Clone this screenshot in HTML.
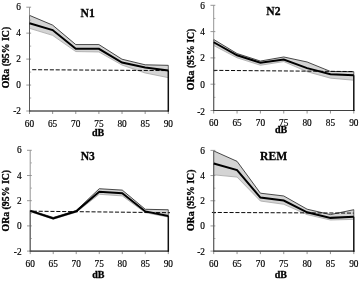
<!DOCTYPE html>
<html><head><meta charset="utf-8"><title>ORa (95% IC) by dB</title>
<style>
html,body{margin:0;padding:0;background:#fff;}
body{width:360px;height:281px;overflow:hidden;}
svg{display:block;}
text{font-family:"Liberation Serif",serif;fill:#000;stroke:#000;stroke-width:0.18px;}
.t{font-size:9.3px;}
.b{font-size:10px;font-weight:bold;stroke-width:0.3px;}
.h{font-size:12.5px;font-weight:bold;stroke-width:0.3px;}
</style></head><body>
<svg width="360" height="281" viewBox="0 0 360 281">
<defs><filter id="soft" x="0" y="0" width="100%" height="100%" filterUnits="userSpaceOnUse" color-interpolation-filters="sRGB"><feGaussianBlur stdDeviation="0.33"/></filter></defs>
<rect width="360" height="281" fill="#fff"/>
<g filter="url(#soft)">
<rect width="360" height="281" fill="#fff"/>
<g>
<polygon points="29.5,15.37 52.63,25.11 75.77,44.57 98.9,44.57 122.03,59.23 145.17,64.81 168.3,65.33 168.3,77.65 145.17,72.98 122.03,65.07 98.9,51.96 75.77,51.57 52.63,35.36 29.5,28.35" fill="#d4d4d4"/>
<polyline points="29.5,28.35 52.63,35.36 75.77,51.57 98.9,51.96 122.03,65.07 145.17,72.98 168.3,77.65" fill="none" stroke="#a6a6a6" stroke-width="0.8"/>
<polyline points="29.5,15.37 52.63,25.11 75.77,44.57 98.9,44.57 122.03,59.23 145.17,64.81 168.3,65.33" fill="none" stroke="#2a2a2a" stroke-width="0.85"/>
<line x1="29.5" y1="7.2" x2="29.5" y2="111" stroke="#888888" stroke-width="0.9"/>
<line x1="29.5" y1="15.37" x2="29.5" y2="23.29" stroke="#666" stroke-width="1"/>
<line x1="29.5" y1="111" x2="168.3" y2="111" stroke="#888888" stroke-width="1"/>
<line x1="26.3" y1="111" x2="31.1" y2="111" stroke="#8c8c8c" stroke-width="0.9"/>
<line x1="29.5" y1="98.03" x2="31.2" y2="98.03" stroke="#999" stroke-width="0.8"/>
<line x1="26.3" y1="85.05" x2="31.1" y2="85.05" stroke="#8c8c8c" stroke-width="0.9"/>
<line x1="29.5" y1="72.08" x2="31.2" y2="72.08" stroke="#999" stroke-width="0.8"/>
<line x1="26.3" y1="59.1" x2="31.1" y2="59.1" stroke="#8c8c8c" stroke-width="0.9"/>
<line x1="29.5" y1="46.12" x2="31.2" y2="46.12" stroke="#999" stroke-width="0.8"/>
<line x1="26.3" y1="33.15" x2="31.1" y2="33.15" stroke="#8c8c8c" stroke-width="0.9"/>
<line x1="29.5" y1="20.17" x2="31.2" y2="20.17" stroke="#999" stroke-width="0.8"/>
<line x1="26.3" y1="7.2" x2="31.1" y2="7.2" stroke="#8c8c8c" stroke-width="0.9"/>
<line x1="29.5" y1="111" x2="29.5" y2="114" stroke="#888888" stroke-width="0.9"/>
<line x1="52.63" y1="111" x2="52.63" y2="114" stroke="#888888" stroke-width="0.9"/>
<line x1="75.77" y1="111" x2="75.77" y2="114" stroke="#888888" stroke-width="0.9"/>
<line x1="98.9" y1="111" x2="98.9" y2="114" stroke="#888888" stroke-width="0.9"/>
<line x1="122.03" y1="111" x2="122.03" y2="114" stroke="#888888" stroke-width="0.9"/>
<line x1="145.17" y1="111" x2="145.17" y2="114" stroke="#888888" stroke-width="0.9"/>
<line x1="168.3" y1="111" x2="168.3" y2="114" stroke="#888888" stroke-width="0.9"/>
<line x1="32.2" y1="69.7" x2="168.3" y2="70.6" stroke="#0a0a0a" stroke-width="1" stroke-dasharray="4.1 1.77"/>
<line x1="29.5" y1="23.29" x2="29.5" y2="111.5" stroke="#5a5a5a" stroke-width="1.05"/>
<line x1="29" y1="111" x2="169" y2="111" stroke="#404040" stroke-width="1.15"/>
<line x1="168.3" y1="65.33" x2="168.3" y2="70.39" stroke="#2a2a2a" stroke-width="0.7"/>
<line x1="168.3" y1="70.39" x2="168.3" y2="111.6" stroke="#111" stroke-width="1.5"/>
<polyline points="29.5,23.29 52.63,30.04 75.77,48.85 98.9,48.85 122.03,62.6 145.17,67.53 168.3,70.39" fill="none" stroke="#000" stroke-width="2" stroke-linejoin="miter"/>
<text x="21" y="114.4" text-anchor="end" class="t">-2</text>
<text x="21" y="87.85" text-anchor="end" class="t">0</text>
<text x="21" y="61.9" text-anchor="end" class="t">2</text>
<text x="21" y="35.95" text-anchor="end" class="t">4</text>
<text x="21" y="10" text-anchor="end" class="t">6</text>
<text x="29.5" y="126.8" text-anchor="middle" class="t">60</text>
<text x="52.63" y="126.8" text-anchor="middle" class="t">65</text>
<text x="75.77" y="126.8" text-anchor="middle" class="t">70</text>
<text x="98.9" y="126.8" text-anchor="middle" class="t">75</text>
<text x="122.03" y="126.8" text-anchor="middle" class="t">80</text>
<text x="145.17" y="126.8" text-anchor="middle" class="t">85</text>
<text x="168.3" y="126.8" text-anchor="middle" class="t">90</text>
<text x="98" y="135.8" text-anchor="middle" class="b">dB</text>
<text transform="translate(87.6 17.2) scale(0.93 1)" text-anchor="middle" class="h">N1</text>
<text transform="translate(9.2 57.6) rotate(-90)" text-anchor="middle" class="b" style="font-size:9.8px">ORa (95% IC)</text>
</g>
<g>
<polygon points="213.7,39.49 237.05,53.56 260.4,61.06 283.75,56.98 307.1,61.98 330.45,71.44 353.8,71.71 353.8,80.25 330.45,78.15 307.1,71.71 283.75,61.58 260.4,65.26 237.05,57.77 213.7,45.54" fill="#d4d4d4"/>
<polyline points="213.7,45.54 237.05,57.77 260.4,65.26 283.75,61.58 307.1,71.71 330.45,78.15 353.8,80.25" fill="none" stroke="#a6a6a6" stroke-width="0.8"/>
<polyline points="213.7,39.49 237.05,53.56 260.4,61.06 283.75,56.98 307.1,61.98 330.45,71.44 353.8,71.71" fill="none" stroke="#2a2a2a" stroke-width="0.85"/>
<line x1="213.7" y1="5.3" x2="213.7" y2="110.5" stroke="#888888" stroke-width="0.9"/>
<line x1="213.7" y1="39.49" x2="213.7" y2="42.25" stroke="#666" stroke-width="1"/>
<line x1="213.7" y1="110.5" x2="353.8" y2="110.5" stroke="#888888" stroke-width="1"/>
<line x1="210.5" y1="110.5" x2="215.3" y2="110.5" stroke="#8c8c8c" stroke-width="0.9"/>
<line x1="213.7" y1="97.35" x2="215.4" y2="97.35" stroke="#999" stroke-width="0.8"/>
<line x1="210.5" y1="84.2" x2="215.3" y2="84.2" stroke="#8c8c8c" stroke-width="0.9"/>
<line x1="213.7" y1="71.05" x2="215.4" y2="71.05" stroke="#999" stroke-width="0.8"/>
<line x1="210.5" y1="57.9" x2="215.3" y2="57.9" stroke="#8c8c8c" stroke-width="0.9"/>
<line x1="213.7" y1="44.75" x2="215.4" y2="44.75" stroke="#999" stroke-width="0.8"/>
<line x1="210.5" y1="31.6" x2="215.3" y2="31.6" stroke="#8c8c8c" stroke-width="0.9"/>
<line x1="213.7" y1="18.45" x2="215.4" y2="18.45" stroke="#999" stroke-width="0.8"/>
<line x1="210.5" y1="5.3" x2="215.3" y2="5.3" stroke="#8c8c8c" stroke-width="0.9"/>
<line x1="213.7" y1="110.5" x2="213.7" y2="113.5" stroke="#888888" stroke-width="0.9"/>
<line x1="237.05" y1="110.5" x2="237.05" y2="113.5" stroke="#888888" stroke-width="0.9"/>
<line x1="260.4" y1="110.5" x2="260.4" y2="113.5" stroke="#888888" stroke-width="0.9"/>
<line x1="283.75" y1="110.5" x2="283.75" y2="113.5" stroke="#888888" stroke-width="0.9"/>
<line x1="307.1" y1="110.5" x2="307.1" y2="113.5" stroke="#888888" stroke-width="0.9"/>
<line x1="330.45" y1="110.5" x2="330.45" y2="113.5" stroke="#888888" stroke-width="0.9"/>
<line x1="353.8" y1="110.5" x2="353.8" y2="113.5" stroke="#888888" stroke-width="0.9"/>
<line x1="213.4" y1="70.35" x2="353.8" y2="71.55" stroke="#0a0a0a" stroke-width="1" stroke-dasharray="4.1 1.77"/>
<line x1="213.7" y1="42.25" x2="213.7" y2="111" stroke="#5a5a5a" stroke-width="1.05"/>
<line x1="213.2" y1="110.5" x2="354.5" y2="110.5" stroke="#404040" stroke-width="1.15"/>
<line x1="353.8" y1="71.71" x2="353.8" y2="75.26" stroke="#2a2a2a" stroke-width="0.7"/>
<line x1="353.8" y1="75.26" x2="353.8" y2="111.1" stroke="#111" stroke-width="1.5"/>
<polyline points="213.7,42.25 237.05,55.27 260.4,62.77 283.75,59.48 307.1,68.16 330.45,74.21 353.8,75.26" fill="none" stroke="#000" stroke-width="2" stroke-linejoin="miter"/>
<text x="204.9" y="114.6" text-anchor="end" class="t">-2</text>
<text x="204.9" y="87.7" text-anchor="end" class="t">0</text>
<text x="204.9" y="61.4" text-anchor="end" class="t">2</text>
<text x="204.9" y="35.1" text-anchor="end" class="t">4</text>
<text x="204.9" y="8.8" text-anchor="end" class="t">6</text>
<text x="213.7" y="125.8" text-anchor="middle" class="t">60</text>
<text x="237.05" y="125.8" text-anchor="middle" class="t">65</text>
<text x="260.4" y="125.8" text-anchor="middle" class="t">70</text>
<text x="283.75" y="125.8" text-anchor="middle" class="t">75</text>
<text x="307.1" y="125.8" text-anchor="middle" class="t">80</text>
<text x="330.45" y="125.8" text-anchor="middle" class="t">85</text>
<text x="353.8" y="125.8" text-anchor="middle" class="t">90</text>
<text x="281" y="133.1" text-anchor="middle" class="b">dB</text>
<text transform="translate(273.4 14.6) scale(0.93 1)" text-anchor="middle" class="h">N2</text>
<text transform="translate(193.7 59.4) rotate(-90)" text-anchor="middle" class="b" style="font-size:9.8px">ORa (95% IC)</text>
</g>
<g>
<polygon points="30.2,210.15 53.22,217.46 76.23,210.53 99.25,188.73 122.27,190.12 145.28,209.27 168.3,209.77 168.3,217.08 145.28,212.67 122.27,195.91 99.25,194.27 76.23,212.29 53.22,219.22 30.2,211.79" fill="#d4d4d4"/>
<polyline points="30.2,211.79 53.22,219.22 76.23,212.29 99.25,194.27 122.27,195.91 145.28,212.67 168.3,217.08" fill="none" stroke="#a6a6a6" stroke-width="0.8"/>
<polyline points="30.2,210.15 53.22,217.46 76.23,210.53 99.25,188.73 122.27,190.12 145.28,209.27 168.3,209.77" fill="none" stroke="#2a2a2a" stroke-width="0.85"/>
<line x1="30.2" y1="150.3" x2="30.2" y2="251.1" stroke="#888888" stroke-width="0.9"/>
<line x1="30.2" y1="210.15" x2="30.2" y2="210.91" stroke="#666" stroke-width="1"/>
<line x1="30.2" y1="251.1" x2="168.3" y2="251.1" stroke="#888888" stroke-width="1"/>
<line x1="27" y1="251.1" x2="31.8" y2="251.1" stroke="#8c8c8c" stroke-width="0.9"/>
<line x1="30.2" y1="238.5" x2="31.9" y2="238.5" stroke="#999" stroke-width="0.8"/>
<line x1="27" y1="225.9" x2="31.8" y2="225.9" stroke="#8c8c8c" stroke-width="0.9"/>
<line x1="30.2" y1="213.3" x2="31.9" y2="213.3" stroke="#999" stroke-width="0.8"/>
<line x1="27" y1="200.7" x2="31.8" y2="200.7" stroke="#8c8c8c" stroke-width="0.9"/>
<line x1="30.2" y1="188.1" x2="31.9" y2="188.1" stroke="#999" stroke-width="0.8"/>
<line x1="27" y1="175.5" x2="31.8" y2="175.5" stroke="#8c8c8c" stroke-width="0.9"/>
<line x1="30.2" y1="162.9" x2="31.9" y2="162.9" stroke="#999" stroke-width="0.8"/>
<line x1="27" y1="150.3" x2="31.8" y2="150.3" stroke="#8c8c8c" stroke-width="0.9"/>
<line x1="30.2" y1="251.1" x2="30.2" y2="254.1" stroke="#888888" stroke-width="0.9"/>
<line x1="53.22" y1="251.1" x2="53.22" y2="254.1" stroke="#888888" stroke-width="0.9"/>
<line x1="76.23" y1="251.1" x2="76.23" y2="254.1" stroke="#888888" stroke-width="0.9"/>
<line x1="99.25" y1="251.1" x2="99.25" y2="254.1" stroke="#888888" stroke-width="0.9"/>
<line x1="122.27" y1="251.1" x2="122.27" y2="254.1" stroke="#888888" stroke-width="0.9"/>
<line x1="145.28" y1="251.1" x2="145.28" y2="254.1" stroke="#888888" stroke-width="0.9"/>
<line x1="168.3" y1="251.1" x2="168.3" y2="254.1" stroke="#888888" stroke-width="0.9"/>
<line x1="32.8" y1="211.2" x2="170" y2="212.7" stroke="#0a0a0a" stroke-width="1" stroke-dasharray="4.1 1.77"/>
<line x1="30.2" y1="210.91" x2="30.2" y2="251.6" stroke="#5a5a5a" stroke-width="1.05"/>
<line x1="29.7" y1="251.1" x2="169" y2="251.1" stroke="#404040" stroke-width="1.15"/>
<line x1="168.3" y1="209.77" x2="168.3" y2="215.95" stroke="#2a2a2a" stroke-width="0.7"/>
<line x1="168.3" y1="215.95" x2="168.3" y2="251.7" stroke="#111" stroke-width="1.5"/>
<polyline points="30.2,210.91 53.22,218.34 76.23,211.28 99.25,191.75 122.27,193.14 145.28,211.41 168.3,215.95" fill="none" stroke="#000" stroke-width="2" stroke-linejoin="miter"/>
<text x="21.6" y="254.8" text-anchor="end" class="t">-2</text>
<text x="21.6" y="229" text-anchor="end" class="t">0</text>
<text x="21.6" y="203.8" text-anchor="end" class="t">2</text>
<text x="21.6" y="178.6" text-anchor="end" class="t">4</text>
<text x="21.6" y="153.4" text-anchor="end" class="t">6</text>
<text x="30.2" y="266.6" text-anchor="middle" class="t">60</text>
<text x="53.22" y="266.6" text-anchor="middle" class="t">65</text>
<text x="76.23" y="266.6" text-anchor="middle" class="t">70</text>
<text x="99.25" y="266.6" text-anchor="middle" class="t">75</text>
<text x="122.27" y="266.6" text-anchor="middle" class="t">80</text>
<text x="145.28" y="266.6" text-anchor="middle" class="t">85</text>
<text x="168.3" y="266.6" text-anchor="middle" class="t">90</text>
<text x="98.3" y="278" text-anchor="middle" class="b">dB</text>
<text transform="translate(87.8 159.8) scale(0.93 1)" text-anchor="middle" class="h">N3</text>
<text transform="translate(8.9 200.7) rotate(-90)" text-anchor="middle" class="b" style="font-size:9.8px">ORa (95% IC)</text>
</g>
<g>
<polygon points="213.7,150.9 237.05,161.35 260.4,193.2 283.75,195.97 307.1,209.18 330.45,214.6 353.8,209.69 353.8,219.38 330.45,220.01 307.1,214.6 283.75,204.27 260.4,201 237.05,177.09 213.7,174.82" fill="#d4d4d4"/>
<polyline points="213.7,174.82 237.05,177.09 260.4,201 283.75,204.27 307.1,214.6 330.45,220.01 353.8,219.38" fill="none" stroke="#a6a6a6" stroke-width="0.8"/>
<polyline points="213.7,150.9 237.05,161.35 260.4,193.2 283.75,195.97 307.1,209.18 330.45,214.6 353.8,209.69" fill="none" stroke="#2a2a2a" stroke-width="0.85"/>
<line x1="213.7" y1="150.4" x2="213.7" y2="251.1" stroke="#888888" stroke-width="0.9"/>
<line x1="213.7" y1="150.9" x2="213.7" y2="163.49" stroke="#666" stroke-width="1"/>
<line x1="213.7" y1="251.1" x2="353.8" y2="251.1" stroke="#888888" stroke-width="1"/>
<line x1="210.5" y1="251.1" x2="215.3" y2="251.1" stroke="#8c8c8c" stroke-width="0.9"/>
<line x1="213.7" y1="238.51" x2="215.4" y2="238.51" stroke="#999" stroke-width="0.8"/>
<line x1="210.5" y1="225.93" x2="215.3" y2="225.93" stroke="#8c8c8c" stroke-width="0.9"/>
<line x1="213.7" y1="213.34" x2="215.4" y2="213.34" stroke="#999" stroke-width="0.8"/>
<line x1="210.5" y1="200.75" x2="215.3" y2="200.75" stroke="#8c8c8c" stroke-width="0.9"/>
<line x1="213.7" y1="188.16" x2="215.4" y2="188.16" stroke="#999" stroke-width="0.8"/>
<line x1="210.5" y1="175.57" x2="215.3" y2="175.57" stroke="#8c8c8c" stroke-width="0.9"/>
<line x1="213.7" y1="162.99" x2="215.4" y2="162.99" stroke="#999" stroke-width="0.8"/>
<line x1="210.5" y1="150.4" x2="215.3" y2="150.4" stroke="#8c8c8c" stroke-width="0.9"/>
<line x1="213.7" y1="251.1" x2="213.7" y2="254.1" stroke="#888888" stroke-width="0.9"/>
<line x1="237.05" y1="251.1" x2="237.05" y2="254.1" stroke="#888888" stroke-width="0.9"/>
<line x1="260.4" y1="251.1" x2="260.4" y2="254.1" stroke="#888888" stroke-width="0.9"/>
<line x1="283.75" y1="251.1" x2="283.75" y2="254.1" stroke="#888888" stroke-width="0.9"/>
<line x1="307.1" y1="251.1" x2="307.1" y2="254.1" stroke="#888888" stroke-width="0.9"/>
<line x1="330.45" y1="251.1" x2="330.45" y2="254.1" stroke="#888888" stroke-width="0.9"/>
<line x1="353.8" y1="251.1" x2="353.8" y2="254.1" stroke="#888888" stroke-width="0.9"/>
<line x1="211.9" y1="212.45" x2="353.8" y2="213.1" stroke="#0a0a0a" stroke-width="1" stroke-dasharray="4.1 1.77"/>
<line x1="213.7" y1="163.49" x2="213.7" y2="251.6" stroke="#5a5a5a" stroke-width="1.05"/>
<line x1="213.2" y1="251.1" x2="354.5" y2="251.1" stroke="#404040" stroke-width="1.15"/>
<line x1="353.8" y1="209.69" x2="353.8" y2="216.86" stroke="#2a2a2a" stroke-width="0.7"/>
<line x1="353.8" y1="216.86" x2="353.8" y2="251.7" stroke="#111" stroke-width="1.5"/>
<polyline points="213.7,163.49 237.05,170.16 260.4,197.6 283.75,200.5 307.1,212.33 330.45,217.87 353.8,216.86" fill="none" stroke="#000" stroke-width="2" stroke-linejoin="miter"/>
<text x="204.9" y="254.8" text-anchor="end" class="t">-2</text>
<text x="204.9" y="229.03" text-anchor="end" class="t">0</text>
<text x="204.9" y="203.85" text-anchor="end" class="t">2</text>
<text x="204.9" y="178.67" text-anchor="end" class="t">4</text>
<text x="204.9" y="153.5" text-anchor="end" class="t">6</text>
<text x="213.7" y="266.6" text-anchor="middle" class="t">60</text>
<text x="237.05" y="266.6" text-anchor="middle" class="t">65</text>
<text x="260.4" y="266.6" text-anchor="middle" class="t">70</text>
<text x="283.75" y="266.6" text-anchor="middle" class="t">75</text>
<text x="307.1" y="266.6" text-anchor="middle" class="t">80</text>
<text x="330.45" y="266.6" text-anchor="middle" class="t">85</text>
<text x="353.8" y="266.6" text-anchor="middle" class="t">90</text>
<text x="280.8" y="278" text-anchor="middle" class="b">dB</text>
<text transform="translate(273.6 159.6) scale(0.93 1)" text-anchor="middle" class="h">REM</text>
<text transform="translate(193.9 200.3) rotate(-90)" text-anchor="middle" class="b" style="font-size:9.8px">ORa (95% IC)</text>
</g>
</g>
</svg>
</body></html>
